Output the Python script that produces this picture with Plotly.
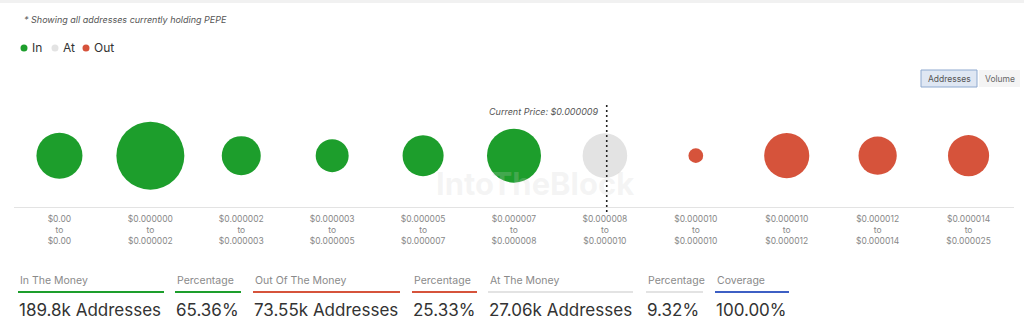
import plotly.graph_objects as go

# Price buckets (low / high bounds) for each bubble
bucket_low = ["$0.00", "$0.000000", "$0.000002", "$0.000003", "$0.000005", "$0.000007",
              "$0.000008", "$0.000010", "$0.000010", "$0.000012", "$0.000014"]
bucket_high = ["$0.00", "$0.000002", "$0.000003", "$0.000005", "$0.000007", "$0.000008",
               "$0.000010", "$0.000010", "$0.000012", "$0.000014", "$0.000025"]

# Number of addresses (thousands) in each bucket, grouped by status
in_idx = [0, 1, 2, 3, 4, 5]
in_addresses = [28.8, 62.9, 20.7, 14.8, 22.9, 39.7]
at_idx = [6]
at_addresses = [27.06]
out_idx = [7, 8, 9, 10]
out_addresses = [2.95, 27.7, 19.9, 23.0]

current_price_bucket = 6
current_price_label = "Current Price: $0.000009"

# Summary panel
summary_labels = ["In The Money", "Percentage", "Out Of The Money", "Percentage",
                  "At The Money", "Percentage", "Coverage"]
summary_values = ["189.8k Addresses", "65.36%", "73.55k Addresses", "25.33%",
                  "27.06k Addresses", "9.32%", "100.00%"]

GREEN = "#1d9e2c"
RED = "#d6533b"
GREY = "#e3e3e3"
BLUE = "#3d5fc4"

W, H = 1024, 332
L, R, T, B = 14, 10, 100, 125
PW, PH = W - L - R, H - T - B


def px_x(x):
    return (x - L) / PW


def px_y(y):
    return (H - B - y) / PH


tick_text = [f"{lo}<br>to<br>{hi}" for lo, hi in zip(bucket_low, bucket_high)]
cats = list(range(len(bucket_low)))

max_val = max(in_addresses + at_addresses + out_addresses)
sizeref = 2.0 * max_val / (68 ** 2)
BUBBLE_Y = 0.48

fig = go.Figure()
series = [("In", in_idx, in_addresses, GREEN),
          ("At", at_idx, at_addresses, GREY),
          ("Out", out_idx, out_addresses, RED)]
for name, idx, vals, color in series:
    fig.add_trace(go.Scatter(
        x=idx, y=[BUBBLE_Y] * len(idx), mode="markers", name=name, showlegend=False,
        marker=dict(size=vals, sizemode="area", sizeref=sizeref, color=color,
                    line=dict(width=0), opacity=1),
        hoverinfo="skip",
    ))

shapes = []
annotations = []

# top strip
shapes.append(dict(type="rect", xref="paper", yref="paper", x0=px_x(0), x1=px_x(W),
                   y0=px_y(0), y1=px_y(3), fillcolor="#f1f1f1", line=dict(width=0), layer="below"))

# compact legend: dot + label
legend_x = [24, 55, 86]
for (name, _, _, color), lx in zip(series, legend_x):
    shapes.append(dict(type="circle", xref="paper", yref="paper",
                       x0=px_x(lx - 3.5), x1=px_x(lx + 3.5),
                       y0=px_y(48 + 3.5), y1=px_y(48 - 3.5),
                       fillcolor=color, line=dict(width=0)))
    annotations.append(dict(xref="paper", yref="paper", x=px_x(lx + 6), y=px_y(48),
                            xanchor="left", yanchor="middle", showarrow=False, text=name,
                            font=dict(size=12, color="#333", family="Inter")))

# current price marker
shapes.append(dict(type="line", xref="x", yref="paper", x0=current_price_bucket + 0.02,
                   x1=current_price_bucket + 0.02, y0=px_y(212), y1=px_y(105),
                   line=dict(color="#222", width=1.6, dash="2px,3px")))
annotations.append(dict(xref="paper", yref="paper", x=px_x(601), y=px_y(111),
                        xanchor="right", yanchor="middle", showarrow=False,
                        text=f"<i>{current_price_label}</i>",
                        font=dict(size=9, color="#555", family="Inter")))

# watermark
annotations.append(dict(xref="paper", yref="paper", x=px_x(535), y=px_y(183),
                        xanchor="center", yanchor="middle", showarrow=False,
                        text="<b>IntoTheBlock</b>",
                        font=dict(size=31, color="rgba(205,205,205,0.22)", family="Inter")))

# subtitle
annotations.append(dict(xref="paper", yref="paper", x=px_x(22), y=px_y(19),
                        xanchor="left", yanchor="middle", showarrow=False,
                        text="<i>* Showing all addresses currently holding PEPE</i>",
                        font=dict(size=9, color="#555", family="Inter")))

# Addresses / Volume toggle
shapes.append(dict(type="rect", xref="paper", yref="paper", x0=px_x(921), x1=px_x(977),
                   y0=px_y(87), y1=px_y(70), fillcolor="#dfe7f3",
                   line=dict(color="#8ea9cf", width=1)))
shapes.append(dict(type="rect", xref="paper", yref="paper", x0=px_x(979), x1=px_x(1020),
                   y0=px_y(87), y1=px_y(70), fillcolor="#f4f4f4", line=dict(width=0)))
annotations.append(dict(xref="paper", yref="paper", x=px_x(949), y=px_y(78.5),
                        xanchor="center", yanchor="middle", showarrow=False, text="Addresses",
                        font=dict(size=8.5, color="#555", family="Inter")))
annotations.append(dict(xref="paper", yref="paper", x=px_x(1000), y=px_y(78.5),
                        xanchor="center", yanchor="middle", showarrow=False, text="Volume",
                        font=dict(size=8.5, color="#666", family="Inter")))

# summary panel
col_x = [18, 175, 253, 412, 488, 646, 715]
col_end = [164, 241, 400, 477, 633, 703, 789]
col_color = [GREEN, GREEN, RED, RED, GREY, GREY, BLUE]
for lbl, val, x0, x1, c in zip(summary_labels, summary_values, col_x, col_end, col_color):
    annotations.append(dict(xref="paper", yref="paper", x=px_x(x0), y=px_y(280),
                            xanchor="left", yanchor="middle", showarrow=False, text=lbl,
                            font=dict(size=10.5, color="#8a8a8a", family="Inter")))
    shapes.append(dict(type="line", xref="paper", yref="paper", x0=px_x(x0), x1=px_x(x1),
                       y0=px_y(292), y1=px_y(292), line=dict(color=c, width=2)))
    annotations.append(dict(xref="paper", yref="paper", x=px_x(x0 - 1), y=px_y(310),
                            xanchor="left", yanchor="middle", showarrow=False, text=val,
                            font=dict(size=17, color="#333", family="Inter")))

fig.update_layout(
    width=W, height=H,
    margin=dict(l=L, r=R, t=T, b=B),
    paper_bgcolor="white", plot_bgcolor="white",
    showlegend=False,
    xaxis=dict(range=[-0.5, len(cats) - 0.5], tickmode="array", tickvals=cats,
               ticktext=tick_text, showgrid=False, zeroline=False,
               showline=True, linecolor="#e3e3e3", linewidth=1,
               ticks="outside", ticklen=4, tickcolor="rgba(0,0,0,0)",
               tickfont=dict(size=8.5, color="#888", family="Inter"), fixedrange=True),
    yaxis=dict(range=[0, 1], visible=False, fixedrange=True),
    shapes=shapes, annotations=annotations,
    hovermode=False,
)

fig.write_html("out.html", config={"displayModeBar": False})
